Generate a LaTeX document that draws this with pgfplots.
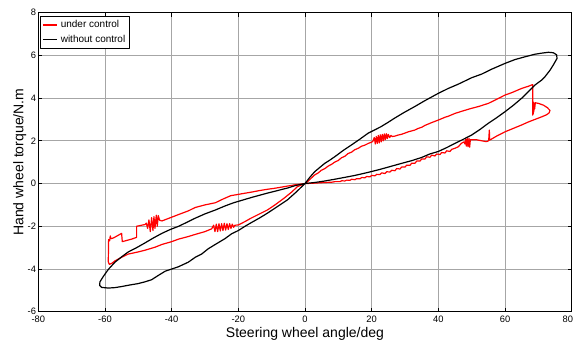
\documentclass[border=0pt]{standalone}
\usepackage{fontspec}
\setmainfont{Liberation Sans}
\usepackage{pgfplots}
\pgfplotsset{compat=1.18}
\begin{document}
\begin{tikzpicture}
\begin{axis}[
  at={(0,0)}, anchor=south west,
  scale only axis, width=400pt, height=224.4pt,
  xmin=-80, xmax=80, ymin=-6, ymax=8,
  xtick={-80,-60,...,80}, ytick={-6,-4,...,8},
  xticklabel={\ifdim\tick pt>79pt\makebox[0pt][r]{\pgfmathprintnumber{\tick}\hspace*{-1pt}}\else\pgfmathprintnumber{\tick}\fi},
  grid=major, grid style={gray!70, line width=0.5pt},
  tick align=inside, tick pos=both, major tick length=3pt,
  axis line style={line width=0.9pt},
  tick style={black, line width=0.5pt},
  /pgf/number format/assume math mode=true,
  tick label style={font=\fontsize{7}{8}\selectfont},
  yticklabel style={inner sep=1.5pt},
  xlabel={Steering wheel angle/deg},
  ylabel={Hand wheel torque/N.m},
  label style={font=\fontsize{10.5}{12}\selectfont},
  xlabel style={at={(axis description cs:0.5,-0.0847)}, anchor=base},
  ylabel style={at={(axis description cs:-0.0281,0.5)}, anchor=base},
  legend style={at={(rel axis cs:0.004,0.988)}, anchor=north west,
    font=\fontsize{7.5}{9}\selectfont, draw=black, line width=0.6pt,
    inner sep=1pt, row sep=0pt, legend cell align=left},
  legend image code/.code={\draw[#1, line width=1pt] (0pt,0pt) -- (11pt,0pt);},
  line join=round,
]
\addplot[red, line width=0.9pt, mark=none] coordinates {
(0,0) (1,0.12) (2,0.27) (2.9,0.4) (4,0.5) (4.9,0.62) (6,0.7) (6.9,0.81) (8,0.9) (8.9,1.0) (10,1.08) (10.9,1.2) (12,1.28) (12.9,1.4) (14,1.47) (14.9,1.58) (16,1.65) (16.9,1.74) (18,1.8) (18.9,1.87) (20.3,1.96)
(20.8,2.15) (21.1,1.85) (21.4,2.2) (21.7,1.88) (22,2.25) (22.3,1.9) (22.6,2.28) (22.9,1.95) (23.2,2.3) (23.5,2.0) (23.8,2.32) (24.1,2.05) (24.4,2.33) (24.7,2.1) (25,2.3) (25.4,2.15) (25.8,2.25) (26.2,2.2)
(27,2.22) (28,2.27) (28.9,2.3) (30,2.36) (31,2.42) (32.9,2.5) (34,2.58) (35,2.63) (36,2.72) (38,2.85) (40,2.97) (42,3.1) (43,3.15) (45,3.28) (47,3.38) (50,3.52) (52,3.6) (55,3.75) (57,3.9) (60,4.14) (62,4.25) (65,4.45) (67,4.55) (68.3,4.63)
(68.3,3.2) (68.35,3.95) (68.45,3.25) (68.55,3.8) (68.65,3.35) (68.75,3.75) (68.9,3.5) (69.1,3.78) (70,3.75) (71.5,3.67) (72.7,3.55) (73.5,3.42) (73.2,3.3) (72.5,3.22) (71,3.12) (69,3.0) (67,2.88) (65,2.74) (62.5,2.58) (60,2.42) (57.5,2.22) (55.4,2.03) (55.3,2.5) (55.1,2.0) (54.4,1.96) (53,2.0) (51.4,2.05) (50,2.05) (49.6,2.05) (49.4,1.7) (49.2,2.12) (48.9,1.72) (48.7,2.1) (48.4,1.75) (48.2,2.08) (48,1.85) (47.7,1.95) (46.9,1.88) (46,1.72) (45,1.65)
(44,1.6) (43.5,1.5) (42.5,1.53) (42,1.43) (41,1.45) (40.5,1.36) (39.5,1.38) (39,1.29) (38,1.33) (37.5,1.23) (36.5,1.25) (36,1.15) (35,1.15) (34.5,1.05) (33.5,1.05) (33,0.95) (32,0.95) (31.5,0.85) (30.5,0.86) (30,0.77) (29,0.77) (28.5,0.68) (27.5,0.7) (27,0.6) (26,0.62) (25.5,0.54) (24.5,0.55) (24,0.47) (23,0.5) (22.5,0.42) (21.5,0.43) (21,0.36) (20,0.38) (19.5,0.31) (18.5,0.33) (18,0.27) (17,0.28) (16.5,0.22) (15.5,0.23) (15,0.18) (14,0.2) (13.5,0.15) (12.5,0.16) (12,0.12) (11,0.13) (10.5,0.09) (9,0.09) (8,0.06) (6,0.05) (4,0.03) (2,0.01) (0,0)
(-3,-0.06) (-6,-0.14) (-9,-0.22) (-11.3,-0.27) (-14,-0.34) (-16,-0.4) (-19,-0.48) (-22.3,-0.57) (-24.5,-0.72) (-26.9,-0.9) (-30,-1.0) (-32.9,-1.12) (-35,-1.28) (-37.9,-1.45) (-40.4,-1.6) (-42.9,-1.75) (-43.6,-1.72) (-44,-1.5) (-44.3,-2.0) (-44.6,-1.48) (-45,-2.1) (-45.3,-1.55) (-45.6,-2.2) (-46,-1.6) (-46.4,-2.25) (-46.8,-1.7) (-47.2,-2.1) (-47.6,-1.85) (-48,-1.92) (-49,-1.95) (-50.5,-2.0) (-50.5,-2.52) (-52,-2.6) (-54.8,-2.72) (-55,-2.33) (-56,-2.42) (-57.5,-2.55) (-58.2,-2.58) (-58.4,-2.45) (-58.6,-2.68) (-58.9,-2.62) (-59,-3.66) (-58.7,-3.78) (-58,-3.74) (-57,-3.62) (-55,-3.45) (-53,-3.3) (-50,-3.2) (-48,-3.12) (-45,-2.98) (-42.9,-2.85) (-40,-2.72) (-37.9,-2.6) (-35,-2.48) (-32.9,-2.38) (-30,-2.25) (-28,-2.12)
(-27.4,-1.95) (-27,-2.25) (-26.6,-1.9) (-26.2,-2.25) (-25.8,-1.88) (-25.4,-2.22) (-25,-1.88) (-24.6,-2.2) (-24.2,-1.86) (-23.8,-2.18) (-23.4,-1.88) (-23,-2.15) (-22.6,-1.88) (-22.2,-2.1) (-21.8,-1.9) (-21.4,-2.05) (-21,-1.95) (-20,-1.94) (-18,-1.78) (-16.3,-1.63) (-14,-1.45) (-11.3,-1.24) (-9,-1.0) (-6.3,-0.69) (-4,-0.4) (-2.3,-0.15) (0,0)
};
\addlegendentry{under control}
\addplot[black, line width=0.9pt, mark=none] coordinates {
(0,0) (1.5,0.3) (2.9,0.55) (4.5,0.76) (5.9,0.94) (7.5,1.1) (8.9,1.25) (11.5,1.55) (13.9,1.8) (16.5,2.08) (18.9,2.35) (20.8,2.5) (22.8,2.66) (24.8,2.85) (26.8,3.05) (29.8,3.33) (32.8,3.59) (36,3.88) (40,4.22) (43,4.45) (46,4.65) (50,4.95) (53,5.12) (56,5.35) (60,5.62) (63,5.8) (66,5.93) (69,6.05) (71,6.1) (73,6.14) (74.5,6.12) (75.5,6.02) (75.6,5.85) (74.5,5.55) (73.5,5.3) (72,5.0) (71,4.84) (69,4.61) (67,4.3) (65,3.99) (62.5,3.66) (60,3.36) (57.5,3.08) (55,2.82) (52.5,2.53) (50,2.27) (47.5,2.07) (45,1.88) (42.5,1.68) (40,1.5) (37.4,1.38) (35,1.22) (32,1.07) (28.9,0.94) (25,0.77) (22,0.64) (18.9,0.52) (15,0.38) (12,0.29) (8.9,0.2) (6,0.12) (3,0.05) (0,0)
(-3,-0.1) (-5,-0.2) (-8,-0.32) (-11.3,-0.45) (-16,-0.65) (-21.4,-0.9) (-24,-1.05) (-26.9,-1.24) (-30,-1.42) (-32.9,-1.62) (-35.5,-1.82) (-37.9,-2.0) (-40.4,-2.15) (-42.9,-2.33) (-45.5,-2.55) (-48,-2.78) (-50.5,-3.0) (-53,-3.2) (-55,-3.43) (-57,-3.68) (-59,-4.02) (-60.5,-4.35) (-61.5,-4.6) (-61.6,-4.76) (-61,-4.86) (-59,-4.89) (-57,-4.87) (-55,-4.82) (-53,-4.76) (-50,-4.68) (-48,-4.6) (-46,-4.5) (-44,-4.3) (-41.9,-4.1) (-40,-4.0) (-37.9,-3.89) (-35,-3.68) (-32.9,-3.45) (-31,-3.3) (-29,-3.05) (-26.9,-2.85) (-24,-2.58) (-22,-2.35) (-20,-2.2) (-18,-2.0) (-16,-1.82) (-13.5,-1.6) (-11.3,-1.39) (-8,-1.05) (-5.3,-0.77) (-2.5,-0.38) (0,0)
};
\addlegendentry{without control}
\end{axis}
\pgfresetboundingbox
\path[use as bounding box] (-28.7pt,-25pt) rectangle (401pt,233.8pt);
\end{tikzpicture}
\end{document}
